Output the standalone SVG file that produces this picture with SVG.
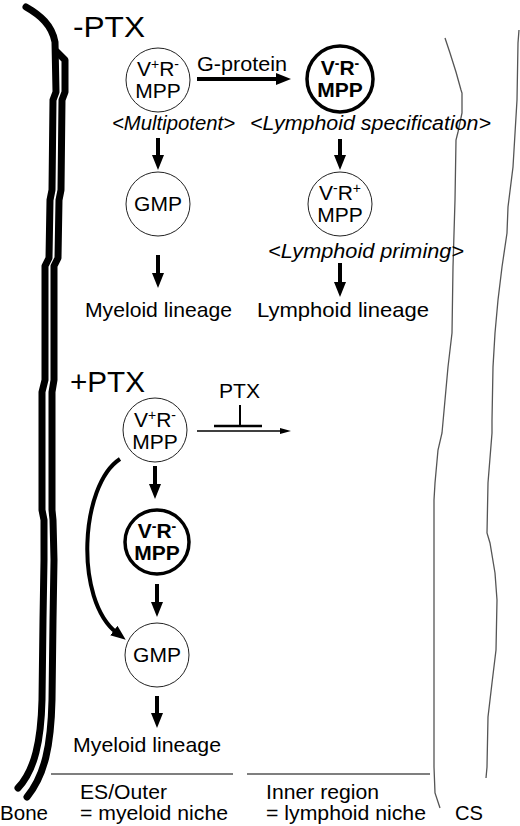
<svg xmlns="http://www.w3.org/2000/svg" width="520" height="826" viewBox="0 0 520 826">
<style>
text{font-family:"Liberation Sans",Arial,Helvetica,sans-serif;fill:#000}
.lbl{font-size:21px}
.it{font-size:20.5px;font-style:italic}
.nt{font-size:21px;text-anchor:middle}
.bt{font-size:21px;font-weight:bold;text-anchor:middle}
.sup{font-size:14px}
.big{font-size:30px}
.thin{fill:#fff;stroke:#222;stroke-width:1}
.bold{fill:#fff;stroke:#000;stroke-width:3.5}
.arr{stroke:#000;stroke-width:4;fill:none;marker-end:url(#ah)}
.bone{fill:none;stroke:#000;stroke-width:7;stroke-linejoin:round;stroke-linecap:round}
.edge{fill:none;stroke:#555;stroke-width:1.3}
</style>
<defs>
<marker id="ah" viewBox="0 0 15 12" refX="4" refY="6" markerWidth="15" markerHeight="12" markerUnits="userSpaceOnUse" orient="auto"><path d="M0,0 L15,6 L0,12 z" fill="#000"/></marker>
<marker id="ahs" viewBox="0 0 11 6" refX="3" refY="3" markerWidth="11" markerHeight="6" markerUnits="userSpaceOnUse" orient="auto"><path d="M0,0 L11,3 L0,6 z" fill="#000"/></marker>
</defs>

<g id="bone">
<path class="bone" d="M26,7 C40,15 52,25 55,42 L56,92 L53,100 L52,190 L50,200 L49,258 L45,266 L45,380 L42,392 L42,510 L44,520 L44,560 L43,620 L42,700 C41,740 35,770 18,788"/>
<path class="bone" d="M57,52 L65,60 L65,92 L62,100 L61,190 L59,200 L58,258 L54,266 L54,380 L52,392 L52,510 L53,520 L54,560 L53,620 L52,700 C51,745 45,775 27,797"/>
</g>
<g id="boundaries">
<polyline class="edge" points="445,38 450,53 456,72 461,90 462,93 462,113 458,132 456,140 455,200 453,267 452,333 448,367 445,400 442,433 438,450 435,483 434,500 434,767 435,793 440,808"/>
<polyline class="edge" points="519,30 518,43 517,100 513,167 508,207 507,233 502,267 498,300 495,333 493,367 492,420 492,433 488,483 487,533 490,543 495,573 497,600 496,650 492,683 488,717 487,767 486,778"/>
<line class="edge" x1="51" y1="774" x2="233" y2="774" stroke-width="1"/>
<line class="edge" x1="247" y1="774" x2="430" y2="774" stroke-width="1"/>
</g>

<g id="titles">
<text class="big" x="73" y="37" textLength="72" lengthAdjust="spacingAndGlyphs">-PTX</text>
<text class="big" x="70" y="392" textLength="75" lengthAdjust="spacingAndGlyphs">+PTX</text>
</g>

<g id="connectors">
<line class="arr" x1="197" y1="79" x2="280" y2="79"/>
<line class="arr" x1="158" y1="138" x2="158" y2="159"/>
<line class="arr" x1="340" y1="139" x2="340" y2="159"/>
<line class="arr" x1="158" y1="255" x2="158" y2="277"/>
<line class="arr" x1="340" y1="263" x2="340" y2="286"/>
<line class="arr" x1="155" y1="466" x2="155" y2="488"/>
<line class="arr" x1="157" y1="584" x2="157" y2="606"/>
<line class="arr" x1="157" y1="696" x2="157" y2="717"/>
<path class="arr" stroke-width="3" d="M120,459 C80,485 74,600 117,633"/>
<line x1="197" y1="431" x2="283" y2="431" stroke="#000" stroke-width="1.3" marker-end="url(#ahs)"/>
<line x1="240" y1="405" x2="240" y2="426" stroke="#000" stroke-width="2"/>
<line x1="214" y1="426" x2="262" y2="426" stroke="#000" stroke-width="2.5"/>
</g>

<g id="edge-labels">
<text class="lbl" x="197" y="71" textLength="90" lengthAdjust="spacingAndGlyphs">G-protein</text>
<text class="lbl" x="219" y="398" textLength="41" lengthAdjust="spacingAndGlyphs">PTX</text>
</g>

<g id="node-vpr-top">
<circle class="thin" cx="158" cy="80" r="32"/>
<text class="nt" x="158" y="76">V<tspan class="sup" dy="-7">+</tspan><tspan dy="7">R</tspan><tspan class="sup" dy="-7">-</tspan></text>
<text class="nt" x="158" y="98">MPP</text>
</g>
<g id="node-vmrm-top">
<circle class="bold" cx="340" cy="79" r="33"/>
<text class="bt" x="340" y="75">V<tspan class="sup" dy="-7">-</tspan><tspan dy="7">R</tspan><tspan class="sup" dy="-7">-</tspan></text>
<text class="bt" x="340" y="97">MPP</text>
</g>
<g id="node-gmp-top">
<circle class="thin" cx="158" cy="204" r="32"/>
<text class="nt" x="158" y="211">GMP</text>
</g>
<g id="node-vmrp-top">
<circle class="thin" cx="340" cy="204" r="32"/>
<text class="nt" x="340" y="200">V<tspan class="sup" dy="-7">-</tspan><tspan dy="7">R</tspan><tspan class="sup" dy="-7">+</tspan></text>
<text class="nt" x="340" y="222">MPP</text>
</g>

<g id="annotations-top">
<text class="it" x="112" y="130" textLength="123" lengthAdjust="spacingAndGlyphs">&lt;Multipotent&gt;</text>
<text class="it" x="250" y="130" textLength="241" lengthAdjust="spacingAndGlyphs">&lt;Lymphoid specification&gt;</text>
<text class="it" x="268" y="258" textLength="196" lengthAdjust="spacingAndGlyphs">&lt;Lymphoid priming&gt;</text>
<text class="lbl" x="85" y="317" textLength="147" lengthAdjust="spacingAndGlyphs">Myeloid lineage</text>
<text class="lbl" x="257" y="317" textLength="172" lengthAdjust="spacingAndGlyphs">Lymphoid lineage</text>
</g>

<g id="node-vpr-bottom">
<circle class="thin" cx="155" cy="430" r="32"/>
<text class="nt" x="155" y="427">V<tspan class="sup" dy="-7">+</tspan><tspan dy="7">R</tspan><tspan class="sup" dy="-7">-</tspan></text>
<text class="nt" x="155" y="449">MPP</text>
</g>
<g id="node-vmrm-bottom">
<circle class="bold" cx="157" cy="542" r="32"/>
<text class="bt" x="157" y="538">V<tspan class="sup" dy="-7">-</tspan><tspan dy="7">R</tspan><tspan class="sup" dy="-7">-</tspan></text>
<text class="bt" x="157" y="560">MPP</text>
</g>
<g id="node-gmp-bottom">
<circle class="thin" cx="157" cy="655" r="32"/>
<text class="nt" x="157" y="662">GMP</text>
</g>
<g id="annotations-bottom">
<text class="lbl" x="73" y="752" textLength="148" lengthAdjust="spacingAndGlyphs">Myeloid lineage</text>
<text class="lbl" x="0" y="820" textLength="48" lengthAdjust="spacingAndGlyphs">Bone</text>
<text class="lbl" x="80" y="799" textLength="87" lengthAdjust="spacingAndGlyphs">ES/Outer</text>
<text class="lbl" x="80" y="820" textLength="148" lengthAdjust="spacingAndGlyphs">= myeloid niche</text>
<text class="lbl" x="266" y="799" textLength="113" lengthAdjust="spacingAndGlyphs">Inner region</text>
<text class="lbl" x="266" y="820" textLength="160" lengthAdjust="spacingAndGlyphs">= lymphoid niche</text>
<text class="lbl" x="455" y="820" textLength="28" lengthAdjust="spacingAndGlyphs">CS</text>
</g>
</svg>
